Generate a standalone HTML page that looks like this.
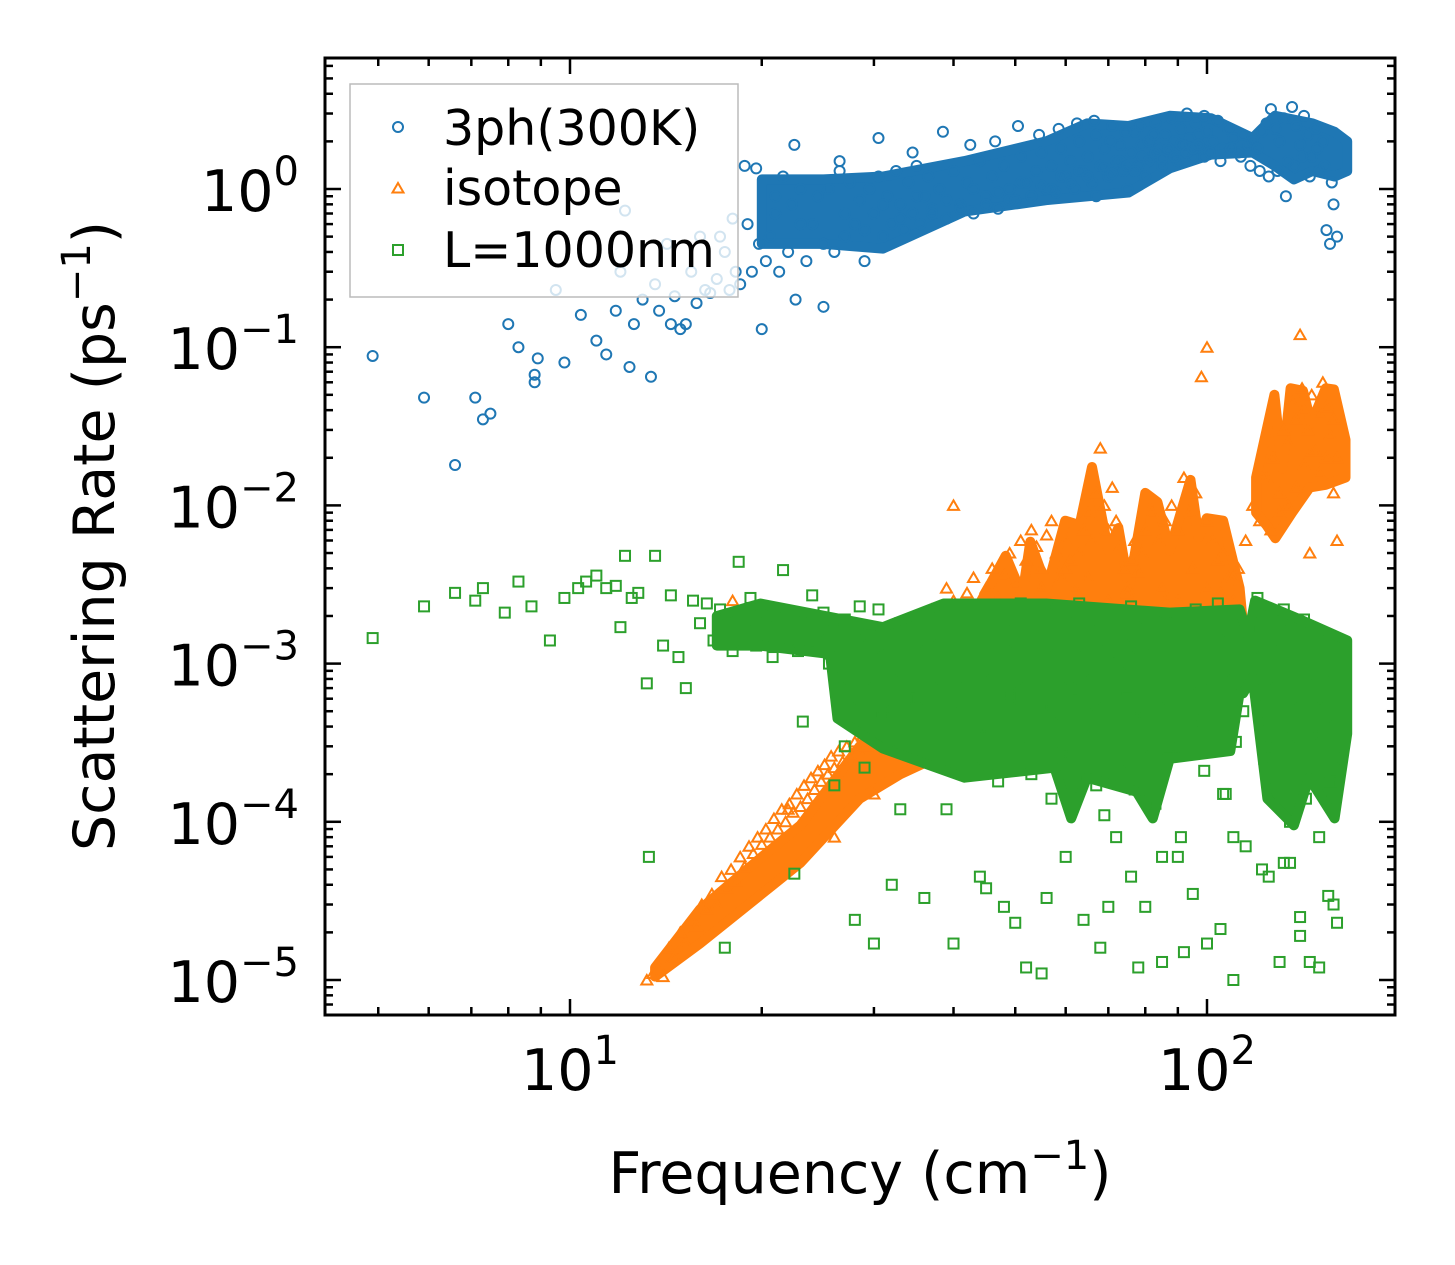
<!DOCTYPE html>
<html><head><meta charset="utf-8"><style>
html,body{margin:0;padding:0;background:#fff}
svg{display:block;font-family:"DejaVu Sans","Liberation Sans",sans-serif}
</style></head><body>
<svg id="chart" width="1455" height="1265" viewBox="0 0 1455 1265" xmlns="http://www.w3.org/2000/svg">
<rect x="0" y="0" width="1455" height="1265" fill="#fff"/>
<g id="marks"></g>
<g id="axes"></g>
<text x="114" y="536" font-size="57" text-anchor="middle" transform="rotate(-90 114 536)">Scattering Rate (ps<tspan font-size="40" dy="-24">−1</tspan><tspan dy="24">)</tspan></text>
<text x="860" y="1193" font-size="57" text-anchor="middle">Frequency (cm<tspan font-size="40" dy="-24">−1</tspan><tspan dy="24">)</tspan></text>
<g>
<rect x="350" y="84" width="388" height="213" fill="#fff" fill-opacity="0.8" stroke="#bbb" stroke-width="1.5"/>
<circle cx="398" cy="127" r="5" fill="none" stroke="#1f77b4" stroke-width="2"/>
<text x="443" y="145" font-size="49">3ph(300K)</text>
<path d="M398,183 L403.5,192.5 L392.5,192.5 Z" fill="none" stroke="#ff7f0e" stroke-width="2"/>
<text x="443" y="205" font-size="49">isotope</text>
<rect x="393" y="245" width="10" height="10" fill="none" stroke="#2ca02c" stroke-width="2"/>
<text x="443" y="267" font-size="49">L=1000nm</text>
</g>
</svg>
<script>
// ---- data (frequency cm^-1, rate ps^-1) ----
const xTickLabels = ["1", "2"];
const yTickExps = ["0", "−1", "−2", "−3", "−4", "−5"];
// dense-cloud envelopes
const threePhUpperFreq = [20,25,31,41.6,55.9,64.8,75.3,87.4,101.5,117.9,127.8,146.5,158.6,166];
const threePhUpperRate = [1.15,1.15,1.2,1.5,2.0,2.6,2.5,2.9,2.8,2.1,2.9,2.6,2.3,2.0];
const threePhLowerFreq = [20,25,31,41.6,55.9,75.3,87.4,101.5,117.9,127.8,136.9,146.5,158.6,166];
const threePhLowerRate = [0.45,0.45,0.42,0.72,0.85,0.95,1.35,1.65,1.7,1.4,1.15,1.3,1.2,1.3];
const isoMainUpperFreq = [42.9,48.3,51.3,52.8,56.1,59.9,63.1,66.0,70.0,72.6,75.4,80.0,83.6,87.4,94.2,97.0,99.9,106,112.5];
const isoMainUpperRate = [2.0e-3,4.8e-3,2.7e-3,5.9e-3,3.0e-3,8.0e-3,7.5e-3,1.75e-2,5.2e-3,7.2e-3,3.0e-3,1.2e-2,1.05e-2,5.2e-3,1.45e-2,6.3e-3,8.3e-3,8.0e-3,3.0e-3];
const isoMainLowerFreq = [42.9,60,80,100,114];
const isoMainLowerRate = [1.7e-3,1.6e-3,1.6e-3,1.6e-3,1.7e-3];
const isoRampUpperFreq = [13.6,16,20,23,28.5,33,39.5];
const isoRampUpperRate = [1.2e-5,2.8e-5,6e-5,9.5e-5,3e-4,4e-4,6e-4];
const isoRampLowerFreq = [13.6,16,20,23,28.5,33,39.5];
const isoRampLowerRate = [1.05e-5,1.7e-5,3.5e-5,5.5e-5,1.4e-4,2e-4,2.8e-4];
const isoHighUpperFreq = [119.4,127.6,131.3,135.3,141.5,145.8,153.6,158.2,165];
const isoHighUpperRate = [1.5e-2,5.0e-2,1.7e-2,5.5e-2,5.3e-2,3.3e-2,5.5e-2,5.4e-2,2.6e-2];
const isoHighLowerFreq = [119.4,124,128,136,145,153.6,165];
const isoHighLowerRate = [9e-3,7.5e-3,6.2e-3,9e-3,1.3e-2,1.35e-2,1.5e-2];
const greenUpperFreq = [17,19.9,31,38.6,55.9,87.4,112.5,116,119,140,166];
const greenUpperRate = [2.0e-3,2.4e-3,1.7e-3,2.4e-3,2.4e-3,2.1e-3,2.2e-3,1.5e-3,2.5e-3,1.9e-3,1.4e-3];
const greenLowerFreq = [17,19.9,25.6,26.3,31,41.6,57.6,61.2,64.8,77.5,82.2,87.4,108.8,112.5,114,117.9,124.4,136.9,144.6,158.6,166];
const greenLowerRate = [1.3e-3,1.3e-3,1.15e-3,4.5e-4,2.9e-4,1.9e-4,2.2e-4,1.05e-4,1.9e-4,1.55e-4,1.05e-4,2.5e-4,2.8e-4,6.5e-4,6.5e-4,8.2e-4,1.4e-4,9.5e-5,1.9e-4,1.05e-4,3.6e-4];
// individual points
const threePhFreq = [4.9,5.9,6.6,7.1,7.3,7.5,8.0,8.3,8.8,8.8,8.9,9.5,9.8,10.4,11.0,11.4,11.8,12.0,12.2,12.4,12.6,13.0,13.4,13.6,13.8,14.2,14.4,14.6,14.9,15.2,15.5,15.8,16.0,16.3,16.6,17.0,17.2,17.5,17.8,18.0,18.2,18.5,18.8,19.0,19.3,19.6,19.8,20.0,20.3,20.6,21.0,21.3,21.6,22.0,22.3,22.6,23.0,23.5,24.0,24.5,25.0,25.5,26,26.5,27,27.5,28,28.5,29,29.5,30,30.5,31,31.5,32,32.5,33,33.5,34,34.5,35,35.5,36,36.5,37,38,39,40,41,42,43,44,45,46,47,48,49,50,51,52,53,54,55,56,57,58,59,60,61,62,63,64,65,66,67,68,69,70,71,72,73,74,75,76,77,78,79,80,81,82,83,84,85,86,87,88,89,90,91,92,93,94,95,96,97,98,99,100,102,104,106,108,110,112,114,116,118,120,122,124,126,128,130,132,134,136,138,140,142,144,146,148,150,152,154,156,158,160,21,23,25,27,29,31,33,35,37,39,41,43,45,47,49,51,53,55,57,59,61,63,65,67,69,71,73,75,77,79,81,83,85,87,89,91,93,95,97,99,101,105,109,113,117,121,125,129,133,137,141,145,149,153,157,22.5,26.5,30.5,34.5,38.5,42.5,46.5,50.5,54.5,58.5,62.5,66.5,70.5,74.5,78.5,82.5,86.5,90.5,94.5,103,111,119,127,135,143,151,159];
const threePhRate = [0.088,0.048,0.018,0.048,0.035,0.038,0.14,0.1,0.06,0.067,0.085,0.23,0.08,0.16,0.11,0.09,0.17,0.3,0.73,0.075,0.14,0.2,0.065,0.25,0.17,0.45,0.14,0.21,0.13,0.14,0.3,0.19,0.5,0.23,0.22,0.27,0.5,0.4,0.23,0.65,0.3,0.25,1.4,0.6,0.3,1.35,0.45,0.13,0.35,0.5,0.9,0.3,1.2,0.4,0.8,0.2,1.0,0.35,0.6,0.9,0.18,1.0,0.4,1.3,0.5,1.1,0.6,0.85,0.35,1.0,0.7,1.2,0.5,0.9,0.6,1.3,0.8,0.55,1.1,0.7,1.4,0.6,0.9,1.2,0.75,1.0,0.65,1.3,0.8,1.1,0.7,1.5,0.9,1.2,0.75,1.4,1.0,0.85,1.6,1.1,0.9,1.3,1.7,1.0,1.4,0.95,1.8,1.2,1.5,1.0,2.0,1.3,1.6,1.1,2.2,1.4,1.8,1.2,2.5,1.5,1.9,1.3,1.0,1.7,2.3,1.4,1.9,1.2,2.0,1.6,2.6,1.8,1.4,2.2,1.7,2.8,2.0,1.5,2.4,1.9,3.0,2.1,1.6,2.6,2.2,1.8,2.9,2.3,2.0,2.7,1.8,2.4,2.1,1.7,2.2,1.9,2.0,1.8,2.3,2.6,3.2,2.4,2.0,2.8,1.5,3.3,2.5,1.9,2.9,2.2,1.6,2.4,1.3,2.0,0.55,0.45,0.8,0.5,0.7,0.6,0.45,0.7,0.55,0.8,0.65,0.9,0.7,0.85,0.75,1.0,0.8,0.95,0.85,1.1,0.9,1.05,1.0,1.2,1.1,1.3,1.2,0.9,1.35,1.25,1.5,1.4,1.3,1.6,1.5,1.7,1.55,1.8,1.6,1.9,1.7,1.8,1.9,1.6,1.7,1.5,1.8,1.6,1.4,1.3,1.2,1.3,0.9,1.4,1.6,1.2,1.8,1.4,1.1,1.9,1.5,2.1,1.7,2.3,1.9,2.0,2.5,2.2,2.4,2.6,2.7,2.0,2.3,2.5,2.2];
const isotopeFreq = [13.2,13.5,13.8,14.0,14.3,14.6,14.9,15.2,15.5,15.8,16.1,16.4,16.7,17.0,17.3,17.6,17.9,18.2,18.5,18.8,19.1,19.4,19.7,20.0,20.3,20.6,20.9,21.2,21.5,21.8,22.1,22.4,22.7,23.0,23.3,23.6,23.9,24.2,24.5,24.8,25.1,25.4,25.7,26.0,26.4,26.8,27.2,27.6,28.0,28.4,28.8,29.2,29.6,30.0,30.5,31,31.5,32,32.5,33,33.5,34,35,36,37,38,39,40,41,42,43,44,45,46,47,48,49,50,51,52,53,54,55,56,57,58,59,60,61,62,63,64,65,66,67,68,69,70,71,72,73,74,75,76,77,78,79,80,82,84,86,88,90,92,94,96,98,100,100,102,104,106,108,110,112,115,118,121,124,127,130,132,134,136,138,140,141,142,144,146,148,150,152,154,156,158,160,122,126,130,134,138,142,146,150,154,158,40,45,50,55,60,65,70,75,80,85,90,95,100,105,110,18,22,26,30,34,38,44,52,58,66,74,86,96,105,125,145,160];
const isotopeRate = [1e-5,1.1e-5,1.2e-5,1.05e-5,1.6e-5,1.4e-5,2e-5,1.7e-5,2.4e-5,2.2e-5,3e-5,2.8e-5,3.5e-5,3e-5,4.5e-5,3.8e-5,5e-5,4.2e-5,6e-5,5.2e-5,7e-5,6.3e-5,8e-5,7.2e-5,9e-5,8e-5,1.05e-4,9e-5,1.2e-4,1.0e-4,1.3e-4,1.15e-4,1.5e-4,1.25e-4,1.7e-4,1.4e-4,1.9e-4,1.6e-4,2.1e-4,1.8e-4,2.3e-4,2e-4,2.6e-4,2.2e-4,2.8e-4,2.4e-4,3e-4,2.6e-4,3.2e-4,2.8e-4,3.5e-4,3e-4,3.8e-4,3.3e-4,4e-4,4.5e-4,3.6e-4,5e-4,4.2e-4,6e-4,5e-4,7e-4,1e-3,1.5e-3,2.2e-3,1.6e-3,3e-3,2.5e-3,1.8e-3,2.8e-3,3.5e-3,2.2e-3,3e-3,4e-3,2.6e-3,3.6e-3,5e-3,3.2e-3,6e-3,4.5e-3,7e-3,5.5e-3,4e-3,6.5e-3,8e-3,5e-3,3.5e-3,6e-3,4.5e-3,3e-3,5e-3,7e-3,9e-3,6e-3,1.2e-2,2.3e-2,1e-2,7e-3,1.3e-2,8e-3,5.5e-3,4e-3,3e-3,4.5e-3,6e-3,3.8e-3,5e-3,7e-3,9e-3,6e-3,8e-3,1e-2,7e-3,1.5e-2,9e-3,1.2e-2,6.5e-2,0.1,8e-3,6e-3,4.5e-3,5e-3,3.5e-3,2.5e-3,4e-3,6e-3,1e-2,8e-3,1.5e-2,2e-2,1.2e-2,3e-2,2.5e-2,4.5e-2,3.5e-2,0.12,5.5e-2,4e-2,3e-2,5e-2,2.2e-2,3.8e-2,6e-2,4.2e-2,2.8e-2,3.5e-2,2e-2,1.5e-2,7e-3,9e-3,1e-2,1.3e-2,1.8e-2,2.2e-2,1.6e-2,2e-2,1.2e-2,1e-2,1.2e-3,2e-3,3e-3,4e-3,3.5e-3,2.5e-3,2.8e-3,2e-3,3e-3,2.5e-3,4e-3,3e-3,2.2e-3,3.5e-3,2.5e-3,1.2e-4,8e-5,1.5e-4,3e-4,5e-4,4e-4,1e-3,2e-3,1.8e-3,1.5e-3,2.5e-3,1.6e-3,2.8e-3,2e-3,5e-3,6e-3,3.2e-3];
const boundaryFreq = [4.9,5.9,6.6,7.1,7.3,7.9,8.3,8.7,9.3,9.8,10.3,10.6,11.0,11.4,11.8,12.0,12.2,12.5,12.8,13.2,13.6,14.0,14.4,14.8,15.2,15.6,16.0,16.4,16.8,17.2,17.6,18.0,18.4,18.8,19.2,19.6,20.0,20.4,20.8,21.2,21.6,22.0,22.4,22.8,23.2,23.6,24,24.5,25,25.5,26,26.5,27,27.5,28,28.5,29,29.5,30,30.5,31,31.5,32,33,34,35,36,37,38,39,40,41,42,43,44,45,46,47,48,49,50,51,52,53,54,55,56,57,58,59,60,61,62,63,64,65,66,67,68,69,70,71,72,73,74,75,76,77,78,79,80,81,82,84,86,88,90,92,94,96,98,100,102,104,106,108,110,112,114,116,118,120,122,124,126,128,130,132,134,136,138,140,142,144,146,148,150,152,154,156,158,160,27,29,31,33,35,37,39,41,43,45,47,49,51,53,55,57,59,61,63,65,67,69,71,73,75,77,79,83,87,91,95,99,103,107,111,115,123,127,131,135,139,143,147,151,155,159,28,32,36,40,44,48,52,56,60,64,68,72,76,80,85,90,95,100,105,110,125,130,135,140,145,150,155,160,13.3,17.5,22.5,26,30,33,45,50,55,62,70,78,85,92,110,122,132,140,150,158];
const boundaryRate = [1.45e-3,2.3e-3,2.8e-3,2.5e-3,3e-3,2.1e-3,3.3e-3,2.3e-3,1.4e-3,2.6e-3,3e-3,3.3e-3,3.6e-3,3e-3,3.1e-3,1.7e-3,4.8e-3,2.6e-3,2.8e-3,7.5e-4,4.8e-3,1.3e-3,2.7e-3,1.1e-3,7e-4,2.5e-3,1.8e-3,2.4e-3,1.4e-3,2.2e-3,1.9e-3,1.2e-3,4.4e-3,1.6e-3,2.6e-3,1.3e-3,2.3e-3,1.8e-3,1.1e-3,2.0e-3,3.9e-3,1.5e-3,1.9e-3,1.2e-3,4.3e-4,1.7e-3,2.7e-3,1.4e-3,2.1e-3,1.0e-3,1.6e-3,8e-4,1.9e-3,6e-4,1.4e-3,2.3e-3,7e-4,1.5e-3,1.1e-3,2.2e-3,5e-4,1.3e-3,9e-4,1.8e-3,6e-4,1.2e-3,2e-3,8e-4,1.5e-3,4.5e-4,1.1e-3,2.2e-3,7e-4,1.4e-3,3.5e-4,1.9e-3,9e-4,2.5e-4,1.6e-3,6e-4,1.2e-3,2.4e-3,8e-4,3e-4,1.5e-3,1e-3,2.2e-3,5e-4,1.3e-3,2.8e-4,1.8e-3,7e-4,1.1e-3,2.4e-3,4e-4,1.4e-3,9e-4,1.7e-4,1.6e-3,6e-4,1.2e-3,2.1e-3,3.5e-4,1e-3,1.5e-3,7e-4,2.3e-3,4.5e-4,1.1e-3,2.6e-4,1.7e-3,8e-4,1.3e-3,6e-4,1.9e-3,3e-4,1.0e-3,1.5e-3,6.5e-4,2.2e-3,4e-4,1.2e-3,8e-4,2.4e-3,1.5e-4,1.4e-3,9e-4,2e-3,5e-4,1.6e-3,1.1e-3,2.6e-3,1.8e-3,7e-4,1.2e-3,3e-4,1.6e-3,2.2e-3,1.4e-4,9e-4,1.5e-3,6e-4,1.9e-3,3.5e-4,1.1e-3,7.5e-4,4e-4,9e-4,6e-4,1.5e-4,2.5e-4,1.8e-4,3e-4,2.2e-4,4.5e-4,2.8e-4,6e-4,3.5e-4,1.2e-4,5e-4,2.5e-4,4e-4,1.8e-4,6.5e-4,3e-4,2e-4,5.5e-4,1.4e-4,4.2e-4,2.6e-4,7e-4,1.9e-4,4.8e-4,1.1e-4,3.8e-4,2.4e-4,6e-4,1.6e-4,5e-4,1.3e-4,2.9e-4,8e-5,4.4e-4,2.1e-4,5.5e-4,1.5e-4,3.2e-4,7e-5,2.5e-4,1.6e-4,4e-4,1e-4,3e-4,1.4e-4,6e-4,3.6e-4,1.8e-4,4.6e-4,2.4e-5,4e-5,3.3e-5,1.7e-5,4.5e-5,2.9e-5,1.2e-5,3.3e-5,6e-5,2.4e-5,1.6e-5,8e-5,4.5e-5,2.9e-5,1.3e-5,6e-5,3.5e-5,1.7e-5,2.1e-5,8e-5,4.5e-5,1.3e-5,5.5e-5,1.9e-5,1.3e-5,8e-5,3.4e-5,2.3e-5,6e-5,1.6e-5,4.7e-5,1.7e-4,1.7e-5,1.2e-4,3.8e-5,2.3e-5,1.1e-5,1.4e-4,2.9e-5,1.2e-5,6e-5,1.5e-5,1e-5,5e-5,5.5e-5,2.5e-5,1.2e-5,3e-5,6e-5,1.3e-5];

// ---- axes ----
const X0 = 570, XDEC = 637, Y0 = 189, YDEC = 158.2;
const L = 325, R = 1395, T = 58, B = 1015;
function xs(f){ return X0 + (Math.log10(f) - 1) * XDEC; }
function ys(v){ return Y0 - Math.log10(v) * YDEC; }
const NS = "http://www.w3.org/2000/svg";
const marks = document.getElementById('marks');
const axes = document.getElementById('axes');
function mk(tag, attrs, parent){
  const e = document.createElementNS(NS, tag);
  for (const k in attrs) e.setAttribute(k, attrs[k]);
  parent.appendChild(e); return e;
}
const clip = mk('clipPath', {id:'pc'}, document.getElementById('chart'));
mk('rect', {x:L, y:T, width:R-L, height:B-T}, clip);
marks.setAttribute('clip-path', 'url(#pc)');

function bandPath(uf, ur, lf, lr){
  const pts = [];
  uf.forEach((f,i)=>pts.push(xs(f).toFixed(1)+','+ys(ur[i]).toFixed(1)));
  for (let i = lf.length-1; i >= 0; i--) pts.push(xs(lf[i]).toFixed(1)+','+ys(lr[i]).toFixed(1));
  return 'M' + pts.join(' L') + ' Z';
}
function band(parent, color, uf, ur, lf, lr){
  const p = mk('path', {d:bandPath(uf,ur,lf,lr), fill:color, stroke:color, 'stroke-width':10, 'stroke-linejoin':'round'}, parent);
  return p;
}

const gBlue = mk('g', {fill:'none', stroke:'#1f77b4', 'stroke-width':2}, marks);


const bb = band(gBlue, '#1f77b4', threePhUpperFreq, threePhUpperRate, threePhLowerFreq, threePhLowerRate);


threePhFreq.forEach((f,i)=>{
  const c = mk('circle', {cx:xs(f), cy:ys(threePhRate[i]), r:5}, gBlue);
  
  
});
const gOr = mk('g', {fill:'none', stroke:'#ff7f0e', 'stroke-width':2}, marks);


const ob1 = band(gOr, '#ff7f0e', isoMainUpperFreq, isoMainUpperRate, isoMainLowerFreq, isoMainLowerRate);


const ob2 = band(gOr, '#ff7f0e', isoRampUpperFreq, isoRampUpperRate, isoRampLowerFreq, isoRampLowerRate);


const ob3 = band(gOr, '#ff7f0e', isoHighUpperFreq, isoHighUpperRate, isoHighLowerFreq, isoHighLowerRate);


isotopeFreq.forEach((f,i)=>{
  const x = xs(f), y = ys(isotopeRate[i]);
  const p = mk('path', {d:`M${x},${y-5} L${x+5.5},${y+4.5} L${x-5.5},${y+4.5} Z`}, gOr);
  
  
});
const gGr = mk('g', {fill:'none', stroke:'#2ca02c', 'stroke-width':2}, marks);


const gb = band(gGr, '#2ca02c', greenUpperFreq, greenUpperRate, greenLowerFreq, greenLowerRate);


boundaryFreq.forEach((f,i)=>{
  const r = mk('rect', {x:xs(f)-5, y:ys(boundaryRate[i])-5, width:10, height:10}, gGr);
  
  
});

// frame
const frame = mk('rect', {x:L, y:T, width:R-L, height:B-T, fill:'none', stroke:'#000', 'stroke-width':3}, axes);


for (let d = 0; d <= 2; d++){
  for (let m = 1; m <= 9; m++){
    const x = xs(m * Math.pow(10, d));
    if (x < L || x > R) continue;
    const len = m === 1 ? 16 : 8;
    mk('line', {x1:x, y1:B, x2:x, y2:B-len, stroke:'#000', 'stroke-width':2.5}, axes);
    mk('line', {x1:x, y1:T, x2:x, y2:T+len, stroke:'#000', 'stroke-width':2.5}, axes);
  }
}
xTickLabels.forEach(e=>{
  const x = xs(Math.pow(10, +e));
  const t = mk('text', {x:x, y:1090, 'font-size':57, 'text-anchor':'middle'}, axes);
  
  
  t.innerHTML = `10<tspan font-size="40" dy="-26">${e}</tspan>`;
});
for (let d = -6; d <= 0; d++){
  for (let m = 1; m <= 9; m++){
    const y = ys(m * Math.pow(10, d));
    if (y < T || y > B) continue;
    const len = m === 1 ? 16 : 8;
    mk('line', {x1:L, y1:y, x2:L+len, y2:y, stroke:'#000', 'stroke-width':2.5}, axes);
    mk('line', {x1:R, y1:y, x2:R-len, y2:y, stroke:'#000', 'stroke-width':2.5}, axes);
  }
}
yTickExps.forEach((e,i)=>{
  const y = ys(Math.pow(10, -i));
  const t = mk('text', {x:299, y:y+22, 'font-size':57, 'text-anchor':'end'}, axes);
  
  
  t.innerHTML = `10<tspan font-size="40" dy="-26">${e}</tspan>`;
});
</script>
</body></html>
